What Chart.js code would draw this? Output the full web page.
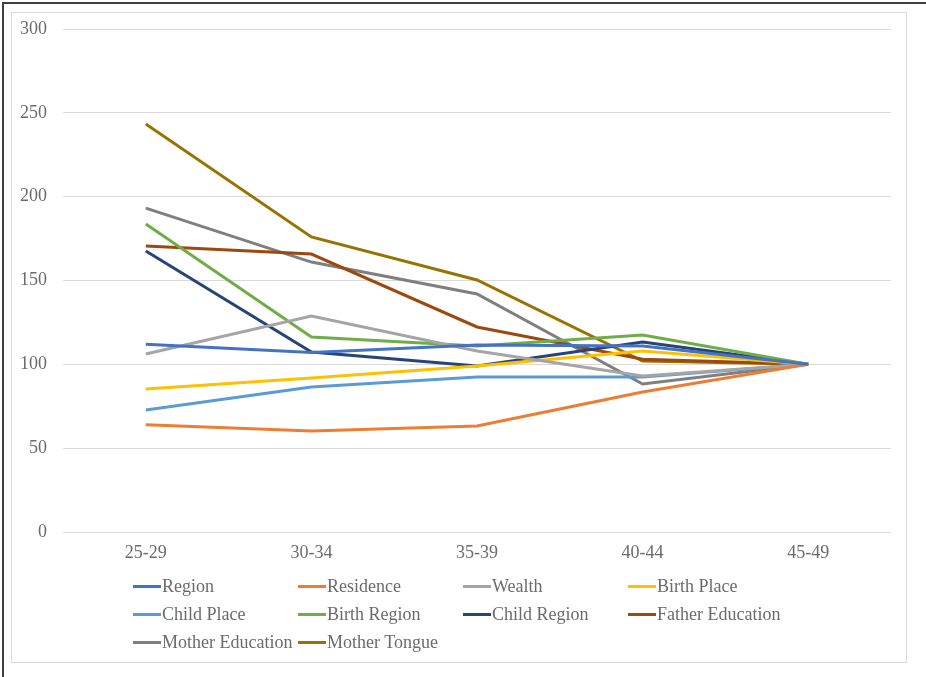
<!DOCTYPE html>
<html>
<head>
<meta charset="utf-8">
<script src="https://cdn.jsdelivr.net/npm/chart.js@4.4.1/dist/chart.umd.min.js"></script>
<style>
  html, body { margin: 0; padding: 0; background: #fff; }
  #wrap { position: relative; width: 926px; height: 677px; overflow: hidden; }
  #frame { position: absolute; left: 2px; top: 2px; width: 940px; height: 700px;
           border-left: 2px solid #3f3f3f; border-top: 2px solid #3f3f3f; }
  #box { position: absolute; left: 11px; top: 12px; width: 894px; height: 649px;
         border: 1px solid #d9d9d9; }
  #chart { position: absolute; left: 0; top: 0; }
  #legend { position: absolute; left: 133px; top: 572px; display: grid;
            grid-template-columns: 165px 165px 165px 165px; grid-auto-rows: 28px;
            font-family: "Liberation Serif", "Times New Roman", serif; font-size: 18px; color: #6b6b6b; }
  #legend .item { display: flex; align-items: center; white-space: nowrap; }
  #legend .swatch { width: 28px; height: 3px; margin-right: 1px; }
</style>
</head>
<body>
<div id="wrap">
  <div id="frame"></div>
  <div id="box"></div>
  <canvas id="chart" width="926" height="677"></canvas>
  <div id="legend"></div>
</div>
<script>
const ageGroups = ['25-29', '30-34', '35-39', '40-44', '45-49'];
const yTicks = [0, 50, 100, 150, 200, 250, 300];

const seriesNames = ['Region', 'Residence', 'Wealth', 'Birth Place', 'Child Place',
  'Birth Region', 'Child Region', 'Father Education', 'Mother Education', 'Mother Tongue'];
const seriesColors = ['#4472C4', '#ED7D31', '#A5A5A5', '#FFC000', '#5B9BD5',
  '#70AD47', '#264478', '#9E480E', '#7F7F7F', '#997300'];

const region = [112, 107, 111.5, 111, 100];
const residence = [64, 60.2, 63.2, 83.5, 100];
const wealth = [106.2, 128.8, 108, 93, 100];
const birthPlace = [85.3, 91.8, 99, 108, 100];
const childPlace = [72.8, 86.5, 92.4, 92.4, 100];
const birthRegion = [183.7, 116.3, 111, 117.5, 100];
const childRegion = [167.6, 107.3, 99, 113.3, 100];
const fatherEducation = [170.6, 165.8, 122.3, 103, 100];
const motherEducation = [193.2, 161, 142, 88.3, 100];
const motherTongue = [243.3, 176, 150.3, 102, 100];

const seriesValues = [region, residence, wealth, birthPlace, childPlace,
  birthRegion, childRegion, fatherEducation, motherEducation, motherTongue];

const font = { family: '"Liberation Serif", "Times New Roman", serif', size: 18 };

const datasets = seriesNames.map(function (name, i) {
  return {
    label: name,
    data: seriesValues[i],
    borderColor: seriesColors[i],
    backgroundColor: seriesColors[i],
    borderWidth: 3,
    pointRadius: 0,
    tension: 0,
    fill: false
  };
});

new Chart(document.getElementById('chart'), {
  type: 'line',
  data: { labels: ageGroups, datasets: datasets },
  options: {
    responsive: false,
    animation: false,
    layout: { padding: { left: 11, right: 35, top: 29, bottom: 105 } },
    plugins: { legend: { display: false }, tooltip: { enabled: false } },
    scales: {
      x: {
        offset: true,
        grid: { display: false, drawTicks: false },
        border: { display: false },
        ticks: { font: font, color: '#6b6b6b', padding: 10 },
        afterFit: function (axis) { axis.height = 40; }
      },
      y: {
        min: 0,
        max: 300,
        afterBuildTicks: function (axis) { axis.ticks = yTicks.map(function (v) { return { value: v }; }); },
        grid: { color: '#d9d9d9', lineWidth: 1, drawTicks: false },
        border: { display: false },
        ticks: { font: font, color: '#6b6b6b', padding: 16 },
        afterFit: function (axis) { axis.width = 52; }
      }
    }
  }
});

// legend laid out as a four-column grid
const legend = document.getElementById('legend');
seriesNames.forEach(function (name, i) {
  const item = document.createElement('div');
  item.className = 'item';
  const sw = document.createElement('span');
  sw.className = 'swatch';
  sw.style.background = seriesColors[i];
  item.appendChild(sw);
  item.appendChild(document.createTextNode(name));
  legend.appendChild(item);
});
</script>
</body>
</html>
